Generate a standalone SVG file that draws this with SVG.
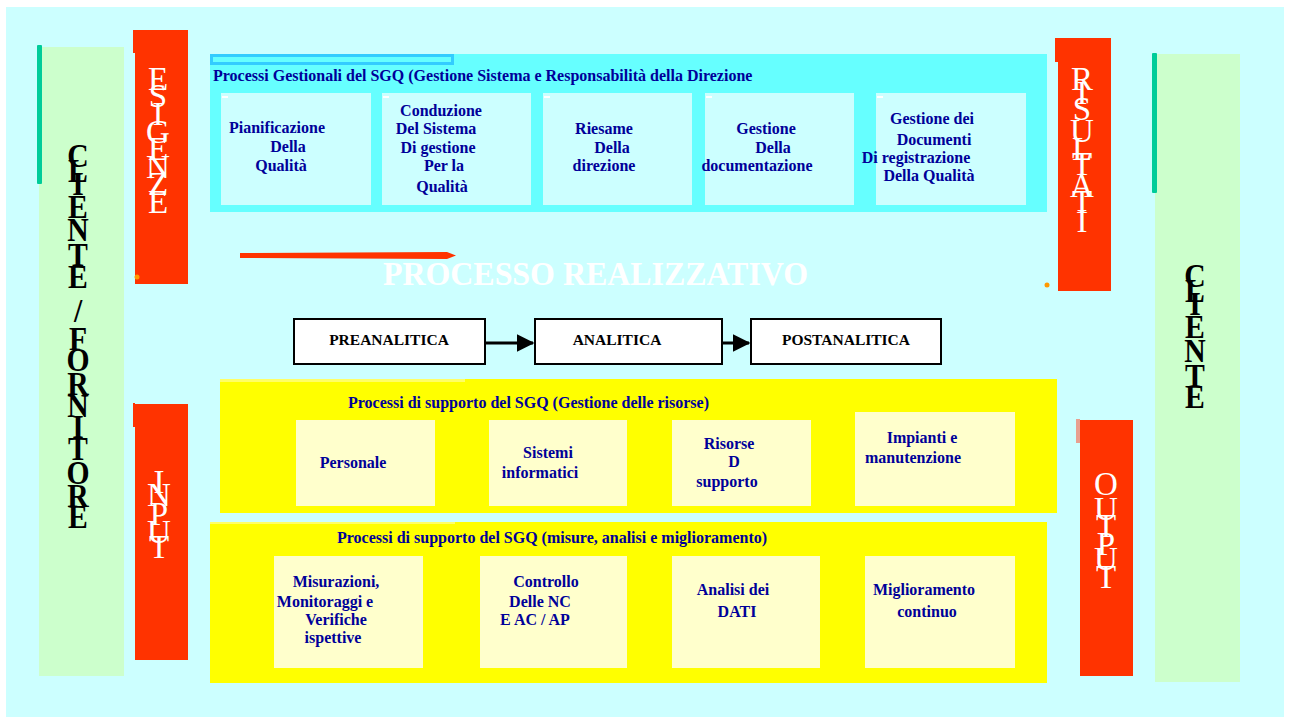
<svg xmlns="http://www.w3.org/2000/svg" width="1290" height="718" viewBox="0 0 1290 718">
  <defs>
    <style>
      .nv { font-family: "Liberation Serif", "Times New Roman", serif; font-weight: bold; font-size: 16px; fill: #000099; }
      .mid { text-anchor: middle; }
      .vb { font-family: "Liberation Serif", "Times New Roman", serif; font-weight: bold; font-size: 33px; fill: #000000; text-anchor: middle; }
      .vw { font-family: "Liberation Serif", "Times New Roman", serif; font-size: 33px; fill: #FFFFFF; text-anchor: middle; }
      .red { fill: #FF3300; }
      .green { fill: #CCFFCC; }
      .teal { fill: #00CC99; }
      .pale { fill: #CCFFFF; }
      .cream { fill: #FFFFCC; }
      .step { fill: #FFFFFF; stroke: #000000; stroke-width: 2; }
      .steptxt { font-family: "Liberation Serif", "Times New Roman", serif; font-weight: bold; font-size: 15.5px; fill: #000000; text-anchor: middle; }
      .tab { fill: #FFFFFF; }
      .dot { fill: #FF9900; }
    </style>
    <marker id="arrowhead" markerWidth="6" markerHeight="6" refX="5.5" refY="3" orient="auto" markerUnits="strokeWidth">
      <path d="M0,0 L6,3 L0,6 Z" fill="#000000"/>
    </marker>
  </defs>

  <!-- page -->
  <rect x="0" y="0" width="1290" height="718" fill="#FFFFFF"/>
  <rect x="6" y="7" width="1278" height="710" fill="#CCFFFF"/>

  <!-- left column: CLIENTE / FORNITORE -->
  <g id="cliente-fornitore">
    <rect class="green" x="39" y="47" width="85" height="629"/>
    <rect class="teal" x="37" y="45" width="5" height="139" rx="1"/>
    <g transform="translate(78,0) scale(0.9,1)">
      <text class="vb" x="0" y="167">C</text>
      <text class="vb" x="0" y="182">L</text>
      <text class="vb" x="0" y="195">I</text>
      <text class="vb" x="0" y="218">E</text>
      <text class="vb" x="0" y="241">N</text>
      <text class="vb" x="0" y="266">T</text>
      <text class="vb" x="0" y="288">E</text>
      <text class="vb" x="0" y="322">/</text>
      <text class="vb" x="0" y="350">F</text>
      <text class="vb" x="0" y="371">O</text>
      <text class="vb" x="0" y="395">R</text>
      <text class="vb" x="0" y="417">N</text>
      <text class="vb" x="0" y="438">I</text>
      <text class="vb" x="0" y="460">T</text>
      <text class="vb" x="0" y="484">O</text>
      <text class="vb" x="0" y="507">R</text>
      <text class="vb" x="0" y="528">E</text>
    </g>
  </g>

  <!-- ESIGENZE bar -->
  <g id="esigenze">
    <rect class="red" x="135" y="30" width="53" height="254"/>
    <rect class="red" x="133" y="30" width="2" height="23"/>
    <circle class="dot" cx="137" cy="277" r="2.5"/>
    <text class="vw" x="158" y="90">E</text>
    <text class="vw" x="158" y="107">S</text>
    <text class="vw" x="158" y="125">I</text>
    <text class="vw" x="158" y="143">G</text>
    <text class="vw" x="158" y="160">E</text>
    <text class="vw" x="158" y="178">N</text>
    <text class="vw" x="158" y="195">Z</text>
    <text class="vw" x="158" y="213">E</text>
  </g>

  <!-- INPUT bar -->
  <g id="input">
    <rect class="red" x="135" y="404" width="53" height="256"/>
    <rect class="red" x="133" y="403" width="2" height="24"/>
    <text class="vw" x="159" y="493">I</text>
    <text class="vw" x="159" y="506">N</text>
    <text class="vw" x="159" y="525">P</text>
    <text class="vw" x="159" y="543">U</text>
    <text class="vw" x="159" y="558">T</text>
  </g>

  <!-- management processes -->
  <g id="processi-gestionali">
    <rect x="210" y="54" width="837" height="158" fill="#66FFFF"/>
    <rect x="211.5" y="55.5" width="241" height="8" fill="#66FFFF" stroke="#33CCFF" stroke-width="3"/>
    <text class="nv" x="213" y="81">Processi Gestionali del SGQ (Gestione Sistema e Responsabilità della Direzione</text>
  </g>
  <g id="pianificazione">
    <rect class="pale" x="221" y="93" width="150" height="112"/>
    <rect class="tab" x="222" y="96" width="6" height="2"/>
    <text class="nv mid" x="277" y="133">Pianificazione</text>
    <text class="nv mid" x="288" y="152">Della</text>
    <text class="nv mid" x="281" y="171">Qualità</text>
  </g>
  <g id="conduzione">
    <rect class="pale" x="382" y="93" width="149" height="112"/>
    <rect class="tab" x="383" y="96" width="6" height="2"/>
    <text class="nv mid" x="441" y="116">Conduzione</text>
    <text class="nv mid" x="436" y="134">Del Sistema</text>
    <text class="nv mid" x="438" y="153">Di gestione</text>
    <text class="nv mid" x="444" y="171">Per la</text>
    <text class="nv mid" x="442" y="192">Qualità</text>
  </g>
  <g id="riesame">
    <rect class="pale" x="543" y="93" width="149" height="112"/>
    <rect class="tab" x="544" y="96" width="6" height="2"/>
    <text class="nv mid" x="604" y="134">Riesame</text>
    <text class="nv mid" x="612" y="153">Della</text>
    <text class="nv mid" x="604" y="171">direzione</text>
  </g>
  <g id="documentazione">
    <rect class="pale" x="705" y="93" width="149" height="112"/>
    <rect class="tab" x="706" y="96" width="6" height="2"/>
    <text class="nv mid" x="766" y="134">Gestione</text>
    <text class="nv mid" x="773" y="153">Della</text>
    <text class="nv mid" x="757" y="171">documentazione</text>
  </g>
  <g id="registrazione">
    <rect class="pale" x="876" y="93" width="150" height="112"/>
    <rect class="tab" x="877" y="96" width="6" height="2"/>
    <text class="nv mid" x="932" y="124">Gestione dei</text>
    <text class="nv mid" x="934" y="145">Documenti</text>
    <text class="nv mid" x="916" y="163">Di registrazione</text>
    <text class="nv mid" x="929" y="181">Della Qualità</text>
  </g>

  <!-- RISULTATI bar -->
  <g id="risultati">
    <rect class="red" x="1058" y="38" width="53" height="253"/>
    <rect class="red" x="1055" y="38" width="3" height="24"/>
    <circle class="dot" cx="1047" cy="285" r="2.5"/>
    <text class="vw" x="1082" y="90">R</text>
    <text class="vw" x="1082" y="104">I</text>
    <text class="vw" x="1082" y="120">S</text>
    <text class="vw" x="1082" y="142">U</text>
    <text class="vw" x="1082" y="160">L</text>
    <text class="vw" x="1082" y="175">T</text>
    <text class="vw" x="1082" y="197">A</text>
    <text class="vw" x="1082" y="213">T</text>
    <text class="vw" x="1082" y="232">I</text>
  </g>

  <!-- OUTPUT bar -->
  <g id="output">
    <rect class="red" x="1080" y="420" width="53" height="256"/>
    <rect x="1076" y="419" width="4" height="24" fill="#E8A090"/>
    <text class="vw" x="1106" y="495">O</text>
    <text class="vw" x="1106" y="520">U</text>
    <text class="vw" x="1106" y="537">T</text>
    <text class="vw" x="1106" y="555">P</text>
    <text class="vw" x="1106" y="570">U</text>
    <text class="vw" x="1106" y="588">T</text>
  </g>

  <!-- right column: CLIENTE -->
  <g id="cliente">
    <rect class="green" x="1155" y="54" width="85" height="628"/>
    <rect class="teal" x="1152" y="53" width="5" height="140" rx="1"/>
    <g transform="translate(1195,0) scale(0.9,1)">
      <text class="vb" x="0" y="287">C</text>
      <text class="vb" x="0" y="302">L</text>
      <text class="vb" x="0" y="315">I</text>
      <text class="vb" x="0" y="338">E</text>
      <text class="vb" x="0" y="362">N</text>
      <text class="vb" x="0" y="387">T</text>
      <text class="vb" x="0" y="408">E</text>
    </g>
  </g>

  <!-- core process heading -->
  <g id="processo-realizzativo">
    <path d="M240,253 L447,252 L456,255.5 L447,259 L240,258 Z" class="red"/>
    <text x="383" y="285" font-family="Liberation Serif, Times New Roman, serif" font-weight="bold" font-size="34" fill="#FFFFFF" textLength="425" lengthAdjust="spacingAndGlyphs">PROCESSO REALIZZATIVO</text>
  </g>

  <!-- core process steps -->
  <g id="preanalitica">
    <rect class="step" x="294" y="319" width="191" height="45"/>
    <text class="steptxt" x="389" y="345">PREANALITICA</text>
  </g>
  <g id="analitica">
    <rect class="step" x="535" y="319" width="187" height="45"/>
    <text class="steptxt" x="617" y="345">ANALITICA</text>
  </g>
  <g id="postanalitica">
    <rect class="step" x="751" y="319" width="190" height="45"/>
    <text class="steptxt" x="846" y="345">POSTANALITICA</text>
  </g>

  <g id="connectors" stroke="#000000" stroke-width="3" fill="none">
    <line x1="486" y1="343" x2="533" y2="343" marker-end="url(#arrowhead)"/>
    <line x1="723" y1="343" x2="749" y2="343" marker-end="url(#arrowhead)"/>
  </g>

  <!-- resource management -->
  <g id="gestione-risorse">
    <rect x="220" y="379" width="837" height="134" fill="#FFFF00"/>
    <rect x="220" y="379" width="245" height="3" fill="#FFFF66"/>
    <text class="nv" x="348" y="408">Processi di supporto del SGQ (Gestione delle risorse)</text>
  </g>
  <g id="personale">
    <rect class="cream" x="296" y="420" width="139" height="86"/>
    <text class="nv mid" x="353" y="468">Personale</text>
  </g>
  <g id="sistemi">
    <rect class="cream" x="489" y="420" width="138" height="86"/>
    <text class="nv mid" x="548" y="458">Sistemi</text>
    <text class="nv mid" x="540" y="478">informatici</text>
  </g>
  <g id="risorse">
    <rect class="cream" x="672" y="420" width="139" height="86"/>
    <text class="nv mid" x="729" y="449">Risorse</text>
    <text class="nv mid" x="734" y="467">D</text>
    <text class="nv mid" x="727" y="487">supporto</text>
  </g>
  <g id="impianti">
    <rect class="cream" x="855" y="412" width="160" height="94"/>
    <text class="nv mid" x="922" y="443">Impianti e</text>
    <text class="nv mid" x="913" y="463">manutenzione</text>
  </g>

  <!-- measurement, analysis and improvement -->
  <g id="misure-miglioramento">
    <rect x="210" y="522" width="837" height="161" fill="#FFFF00"/>
    <rect x="210" y="522" width="245" height="2" fill="#FFFF66"/>
    <text class="nv" x="337" y="543">Processi di supporto del SGQ (misure, analisi e miglioramento)</text>
  </g>
  <g id="misurazioni">
    <rect class="cream" x="274" y="556" width="149" height="112"/>
    <text class="nv mid" x="336" y="587">Misurazioni,</text>
    <text class="nv mid" x="325" y="607">Monitoraggi e</text>
    <text class="nv mid" x="336" y="625">Verifiche</text>
    <text class="nv mid" x="333" y="643">ispettive</text>
  </g>
  <g id="controllo">
    <rect class="cream" x="480" y="556" width="147" height="112"/>
    <text class="nv mid" x="546" y="587">Controllo</text>
    <text class="nv mid" x="540" y="607">Delle NC</text>
    <text class="nv mid" x="535" y="625">E AC / AP</text>
  </g>
  <g id="analisi">
    <rect class="cream" x="672" y="556" width="148" height="112"/>
    <text class="nv mid" x="733" y="595">Analisi dei</text>
    <text class="nv mid" x="737" y="617">DATI</text>
  </g>
  <g id="miglioramento">
    <rect class="cream" x="865" y="556" width="150" height="112"/>
    <text class="nv mid" x="924" y="595">Miglioramento</text>
    <text class="nv mid" x="927" y="617">continuo</text>
  </g>
</svg>
